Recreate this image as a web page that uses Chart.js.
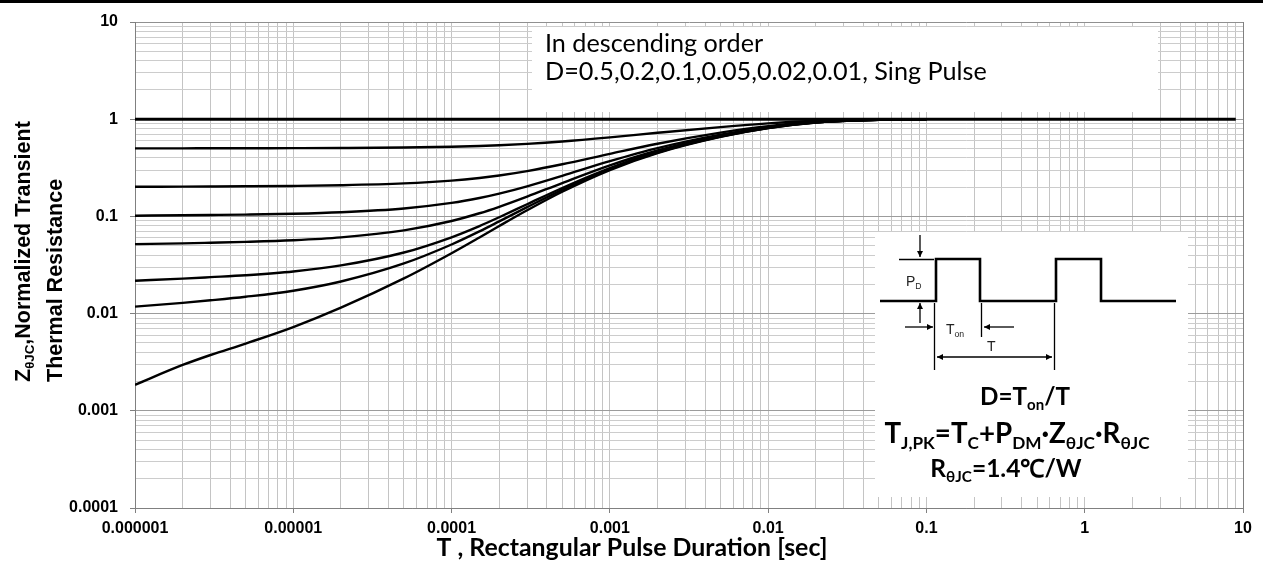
<!DOCTYPE html>
<html><head><meta charset="utf-8">
<script src="https://cdn.jsdelivr.net/npm/chart.js@4.4.1/dist/chart.umd.min.js"></script>
<style>html,body{margin:0;padding:0;background:#fff;overflow:hidden}#wrap{width:1263px;height:570px;position:relative}</style>
</head><body><div id="wrap"><canvas id="c" width="1263" height="570"></canvas></div>
<script>
// ---- data ----
const xTickLabels = ["0.000001","0.00001","0.0001","0.001","0.01","0.1","1","10"];
const yTickLabels = ["0.0001","0.001","0.01","0.1","1","10"];
const pulseT  = [0.000001,0.000002,0.000003,0.000005,0.00001,0.00002,0.00005,0.0001,0.00015,0.0002,0.0003,0.0005,0.001,0.002,0.005,0.01,0.02,0.05,0.1];
const zD05    = [0.5009,0.5015,0.5019,0.5025,0.5036,0.5058,0.5115,0.5209,0.5304,0.5398,0.5578,0.5898,0.650,0.7245,0.8295,0.9055,0.9625,0.993,0.9975];
const zD02    = [0.2015,0.2024,0.2030,0.2039,0.2058,0.2092,0.2184,0.2334,0.2486,0.2637,0.2925,0.3436,0.440,0.5592,0.7272,0.8488,0.940,0.9888,0.996];
const zD01    = [0.1017,0.1027,0.1034,0.1044,0.1065,0.1104,0.1207,0.1376,0.1546,0.1716,0.2040,0.2616,0.370,0.5041,0.6931,0.8299,0.9325,0.9874,0.9955];
const zD005   = [0.0518,0.0528,0.0536,0.0547,0.0569,0.0609,0.0719,0.0897,0.1077,0.1256,0.1598,0.2205,0.335,0.4766,0.6761,0.8205,0.9288,0.9867,0.9953];
const zD002   = [0.0218,0.0229,0.0237,0.0248,0.0271,0.0313,0.0425,0.0610,0.0795,0.0980,0.1333,0.1959,0.314,0.460,0.6658,0.8148,0.9265,0.9863,0.995];
const zD001   = [0.0118,0.0129,0.0137,0.0149,0.0172,0.0214,0.0328,0.0514,0.0701,0.0888,0.1244,0.1877,0.307,0.4545,0.6624,0.8129,0.9258,0.9861,0.995];
const zSingle = [0.00185,0.00296,0.00375,0.00492,0.00727,0.0115,0.0230,0.0418,0.0607,0.0796,0.1156,0.1795,0.300,0.449,0.659,0.811,0.925,0.986,0.995];
const unityX  = [0.000001, 9];
const unityY  = [1, 1];

// ---- helpers ----
const isDec = v => Math.abs(Math.log10(v) - Math.round(Math.log10(v))) < 1e-6;
function logTicks(lo, hi) {
  const t = [];
  for (let e = lo; e <= hi; e++) {
    for (let m = 1; m <= 9; m++) {
      if (e === hi && m > 1) break;
      t.push({ value: parseFloat((m * Math.pow(10, e)).toPrecision(8)) });
    }
  }
  return t;
}
const pts = (xs, ys) => xs.map((x, i) => ({ x: x, y: ys[i] }));
function runsWidth(ctx, runs, size, family, weight) {
  let w = 0;
  runs.forEach(r => { ctx.font = `${weight} ${r[1] ? size * 0.62 : size}px ${family}`; w += ctx.measureText(r[0]).width; });
  return w;
}
function fitSize(ctx, runs, family, weight, targetW) {
  return 20 * targetW / runsWidth(ctx, runs, 20, family, weight);
}
function drawRuns(ctx, runs, x, y, size, family, weight, align) {
  const w = runsWidth(ctx, runs, size, family, weight);
  let cx = align === 'center' ? x - w / 2 : (align === 'right' ? x - w : x);
  ctx.textAlign = 'left'; ctx.textBaseline = 'alphabetic';
  runs.forEach(r => {
    ctx.font = `${weight} ${r[1] ? size * 0.62 : size}px ${family}`;
    ctx.fillText(r[0], cx, y + (r[1] ? size * 0.2 : 0));
    cx += ctx.measureText(r[0]).width;
  });
}
function arrow(ctx, x1, y1, x2, y2) {
  ctx.beginPath(); ctx.moveTo(x1, y1); ctx.lineTo(x2, y2); ctx.stroke();
  const a = Math.atan2(y2 - y1, x2 - x1), L = 6, H = 3;
  ctx.beginPath();
  ctx.moveTo(x2, y2);
  ctx.lineTo(x2 - L * Math.cos(a) + H * Math.sin(a), y2 - L * Math.sin(a) - H * Math.cos(a));
  ctx.lineTo(x2 - L * Math.cos(a) - H * Math.sin(a), y2 - L * Math.sin(a) + H * Math.cos(a));
  ctx.closePath(); ctx.fill();
}

const deco = {
  id: 'deco',
  beforeDatasetsDraw(chart) {
    const c = chart.ctx; c.save(); c.fillStyle = '#fff';
    c.fillRect(532, 27, 626, 85);
    c.fillRect(875, 232, 313, 265);
    c.restore();
  },
  afterDraw(chart) {
    const c = chart.ctx; c.save();
    c.fillStyle = '#000'; c.fillRect(0, 0, 1263, 3);
    // top note
    const l1 = [["In descending order"]], l2 = [["D=0.5,0.2,0.1,0.05,0.02,0.01, Sing Pulse"]];
    const s = fitSize(c, l2, 'Lato', 'normal', 442);
    c.fillStyle = '#000';
    drawRuns(c, l1, 545, 52, s, 'Lato', 'normal', 'left');
    drawRuns(c, l2, 545, 80, s, 'Lato', 'normal', 'left');
    // axis titles
    const xt = [["T , Rectangular Pulse Duration [sec]"]];
    drawRuns(c, xt, 632, 556, fitSize(c, xt, 'Lato', 'bold', 391), 'Lato', 'bold', 'center');
    c.save(); c.translate(30, 382); c.rotate(-Math.PI / 2);
    drawRuns(c, [["Z"], ["\u03b8JC", 1], [",Normalized Transient"]], 0, 0, 21.5, 'Liberation Sans', 'bold', 'left');
    c.restore();
    c.save(); c.translate(62, 382); c.rotate(-Math.PI / 2);
    drawRuns(c, [["Thermal Resistance"]], 0, 0, 21.5, 'Liberation Sans', 'bold', 'left');
    c.restore();
    // pulse diagram
    c.strokeStyle = '#000'; c.fillStyle = '#000'; c.lineJoin = 'miter';
    c.lineWidth = 2.6;
    c.beginPath();
    c.moveTo(880, 301); c.lineTo(936, 301); c.lineTo(936, 259); c.lineTo(980, 259); c.lineTo(980, 301);
    c.lineTo(1056, 301); c.lineTo(1056, 259); c.lineTo(1101, 259); c.lineTo(1101, 301); c.lineTo(1176, 301);
    c.stroke();
    c.lineWidth = 1.3;
    c.beginPath(); c.moveTo(899, 259.5); c.lineTo(934, 259.5); c.stroke();
    arrow(c, 920, 235, 920, 257);
    arrow(c, 920, 323, 920, 303);
    arrow(c, 905, 327, 933, 327);
    arrow(c, 1014, 327, 984, 327);
    c.beginPath();
    c.moveTo(934.5, 303); c.lineTo(934.5, 370);
    c.moveTo(981.5, 303); c.lineTo(981.5, 337);
    c.moveTo(1054.5, 303); c.lineTo(1054.5, 370);
    c.stroke();
    arrow(c, 990, 357, 937, 357);
    arrow(c, 990, 357, 1052, 357);
    c.fillStyle = '#222';
    drawRuns(c, [["P"], ["D", 1]], 906, 286, 14, 'Liberation Sans', 'normal', 'left');
    drawRuns(c, [["T"], ["on", 1]], 946, 334, 14, 'Liberation Sans', 'normal', 'left');
    drawRuns(c, [["T"]], 987, 351, 14, 'Liberation Sans', 'normal', 'left');
    // formulas
    c.fillStyle = '#000';
    const f1 = [["D=T"], ["on", 1], ["/T"]];
    const f2 = [["T"], ["J,PK", 1], ["=T"], ["C", 1], ["+P"], ["DM", 1], ["\u00b7Z"], ["\u03b8JC", 1], ["\u00b7R"], ["\u03b8JC", 1]];
    const f3 = [["R"], ["\u03b8JC", 1], ["=1.4\u2103/W"]];
    drawRuns(c, f1, 1025, 405, fitSize(c, f1, 'Lato', 'bold', 90), 'Lato', 'bold', 'center');
    drawRuns(c, f2, 1017, 443, fitSize(c, f2, 'Lato', 'bold', 265), 'Lato', 'bold', 'center');
    drawRuns(c, f3, 1006, 477, fitSize(c, f3, 'Lato', 'bold', 152), 'Lato', 'bold', 'center');
    c.restore();
  }
};

const ds = (data, w) => ({ data: data, borderColor: '#000', borderWidth: w, pointRadius: 0, fill: false, tension: 0.3, cubicInterpolationMode: 'monotone' });

new Chart(document.getElementById('c'), {
  type: 'line',
  data: {
    datasets: [
      ds(pts(unityX, unityY), 3),
      ds(pts(pulseT, zD05), 2.4),
      ds(pts(pulseT, zD02), 2.4),
      ds(pts(pulseT, zD01), 2.4),
      ds(pts(pulseT, zD005), 2.4),
      ds(pts(pulseT, zD002), 2.4),
      ds(pts(pulseT, zD001), 2.4),
      ds(pts(pulseT, zSingle), 2.4)
    ]
  },
  options: {
    responsive: false, animation: false, devicePixelRatio: 1,
    layout: { padding: { left: 0, right: 20, top: 22, bottom: 0 } },
    plugins: { legend: { display: false }, tooltip: { enabled: false } },
    scales: {
      x: {
        type: 'logarithmic', min: 0.000001, max: 10,
        afterBuildTicks: s => { s.ticks = logTicks(-6, 1); },
        afterFit: s => { s.height = 62; },
        ticks: {
          autoSkip: false, maxRotation: 0, minRotation: 0, padding: 6, color: '#000',
          font: { family: 'Liberation Sans', weight: 'bold', size: 16 },
          callback: v => isDec(v) ? xTickLabels[Math.round(Math.log10(v)) + 6] : ''
        },
        grid: {
          lineWidth: 1, tickLength: 5,
          color: ctx => (ctx.tick && ctx.tick.value === 10) ? '#808080' : '#c4c4c4',
          tickColor: ctx => (ctx.tick && isDec(ctx.tick.value)) ? '#808080' : 'rgba(0,0,0,0)'
        },
        border: { color: '#808080', width: 1 }
      },
      y: {
        type: 'logarithmic', min: 0.0001, max: 10,
        afterBuildTicks: s => { s.ticks = logTicks(-4, 1); },
        afterFit: s => { s.width = 135; },
        ticks: {
          autoSkip: false, padding: 12, color: '#000',
          font: { family: 'Liberation Sans', weight: 'bold', size: 16 },
          callback: v => isDec(v) ? yTickLabels[Math.round(Math.log10(v)) + 4] : ''
        },
        grid: {
          lineWidth: 1, tickLength: 5,
          color: ctx => !ctx.tick ? '#c4c4c4' : (ctx.tick.value === 10 ? '#909090' : (isDec(ctx.tick.value) ? '#9c9c9c' : '#cccccc')),
          tickColor: ctx => (ctx.tick && isDec(ctx.tick.value)) ? '#808080' : 'rgba(0,0,0,0)'
        },
        border: { color: '#808080', width: 1 }
      }
    }
  },
  plugins: [deco]
});
</script></body></html>
